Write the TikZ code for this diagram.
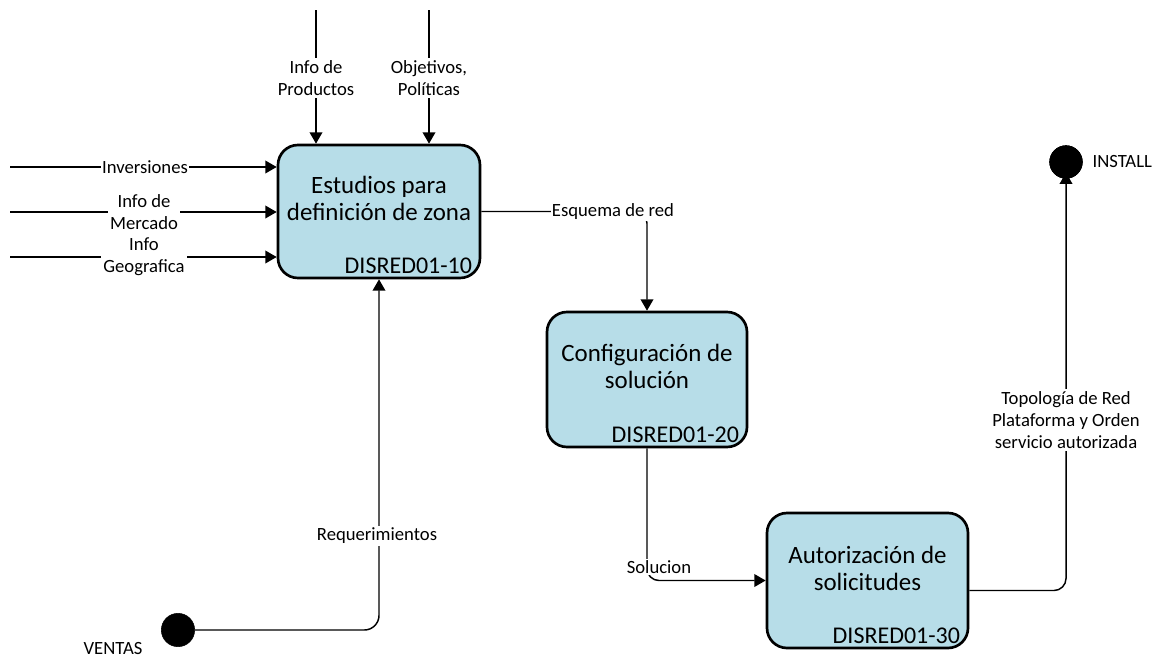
\documentclass[tikz,border=0pt]{standalone}
\usepackage{fontspec}
\setmainfont{Carlito}
\usetikzlibrary{arrows.meta,calc}
\definecolor{boxfill}{RGB}{183,221,232}
\begin{document}
\begin{tikzpicture}[x=0.75pt,y=-0.75pt,
  procbox/.style={draw=black,line width=2pt,fill=boxfill,rounded corners=15pt,
    minimum width=151pt,minimum height=101pt,inner sep=0pt},
  ttl/.style={align=center,font=\fontsize{18.7}{20.5}\selectfont,inner sep=0pt},
  idtxt/.style={font=\fontsize{18}{20.5}\selectfont,inner sep=0pt,anchor=south east},
  lbl/.style={align=center,font=\fontsize{14}{16.5}\selectfont,fill=white,inner sep=1.5pt},
  plain/.style={align=center,font=\fontsize{14}{16.5}\selectfont,inner sep=1pt},
  conn/.style={line width=1.1pt,draw=black},
  arr/.style={conn,-{Triangle[length=8.5pt,width=9.5pt]}},
  dot/.style={circle,fill=black,draw=black,minimum size=24.5pt,inner sep=0pt}
]
\useasboundingbox (0,0) rectangle (1155,657);

% boxes
\node[procbox,minimum width=151.5pt,minimum height=99.75pt] (b1) at (379,211.5) {};
\node[procbox,minimum width=150pt,minimum height=101.25pt] (b2) at (647,379.5) {};
\node[procbox,minimum width=150.75pt,minimum height=101.25pt] (b3) at (867.5,580.5) {};

\node[ttl] (t1) at ($(b1.center)+(0,-13)$) {Estudios para\\definición de zona};
\node[ttl] (t2) at ($(b2.center)+(0,-13)$) {Configuración de\\solución};
\node[ttl] (t3) at ($(b3.center)+(0,-12)$) {Autorización de\\solicitudes};
\node[idtxt] (i1) at ($(b1.south east)+(-9,-5)$) {DISRED01-10};
\node[idtxt] (i2) at ($(b2.south east)+(-9,-5)$) {DISRED01-20};
\node[idtxt] (i3) at ($(b3.south east)+(-9,-5)$) {DISRED01-30};

% endpoints
\coordinate (sP) at (316,10);
\coordinate (sO) at (429,10);
\coordinate (sI) at (10,167);
\coordinate (sM) at (10,212);
\coordinate (sG) at (10,257);
\node[dot] (inst) at (1066,162) {};
\node[dot,minimum size=25pt] (ventas) at (178,630) {};

% top controls
\draw[arr] (sP) -- (sP |- b1.north);
\draw[arr] (sO) -- (sO |- b1.north);
\node[lbl] (lP) at (316,78) {Info de\\Productos};
\node[lbl] (lO) at (429,78) {Objetivos,\\Políticas};

% left inputs
\draw[arr] (sI) -- (sI -| b1.west);
\draw[arr] (sM) -- (sM -| b1.west);
\draw[arr] (sG) -- (sG -| b1.west);
\node[lbl,inner sep=0.5pt] (lI) at (145,167) {Inversiones};
\node[lbl] (lM) at (144,212) {Info de\\Mercado};
\node[lbl] (lG) at (144,257) {Info\\Geografica};

% Esquema de red
\draw[arr,rounded corners=9pt] (b1.east) -- (b1.east -| b2.north) -- (b2.north);
\node[lbl,inner sep=0.5pt] (lE) at (613,212) {Esquema de red};

% Solucion
\draw[arr,rounded corners=9pt] (b2.south) -- (b2.south |- b3.west) -- (b3.west);
\node[lbl,inner sep=1pt] (lS) at (659,567) {Solucion};

% to INSTALL
\coordinate (o3) at ($(b3.east)+(0,10)$);
\coordinate (e3) at ($(inst.south)+(0,-6)$);
\draw[arr,rounded corners=9pt] (o3) -- (o3 -| inst.south) -- (e3);
\node[dot] (inst2) at (inst) {};
\node[lbl] (lT) at (1066,420) {Topología de Red\\Plataforma y Orden\\servicio autorizada};
\node[plain,anchor=west] (lInst) at (1091,162) {INSTALL};

% from VENTAS
\draw[arr,rounded corners=11pt] (ventas.east) -- (ventas.east -| b1.south) -- (b1.south);
\node[lbl] (lR) at (377,536) {Requerimientos};
\node[plain] (lV) at (113,648) {VENTAS};
\end{tikzpicture}
\end{document}
